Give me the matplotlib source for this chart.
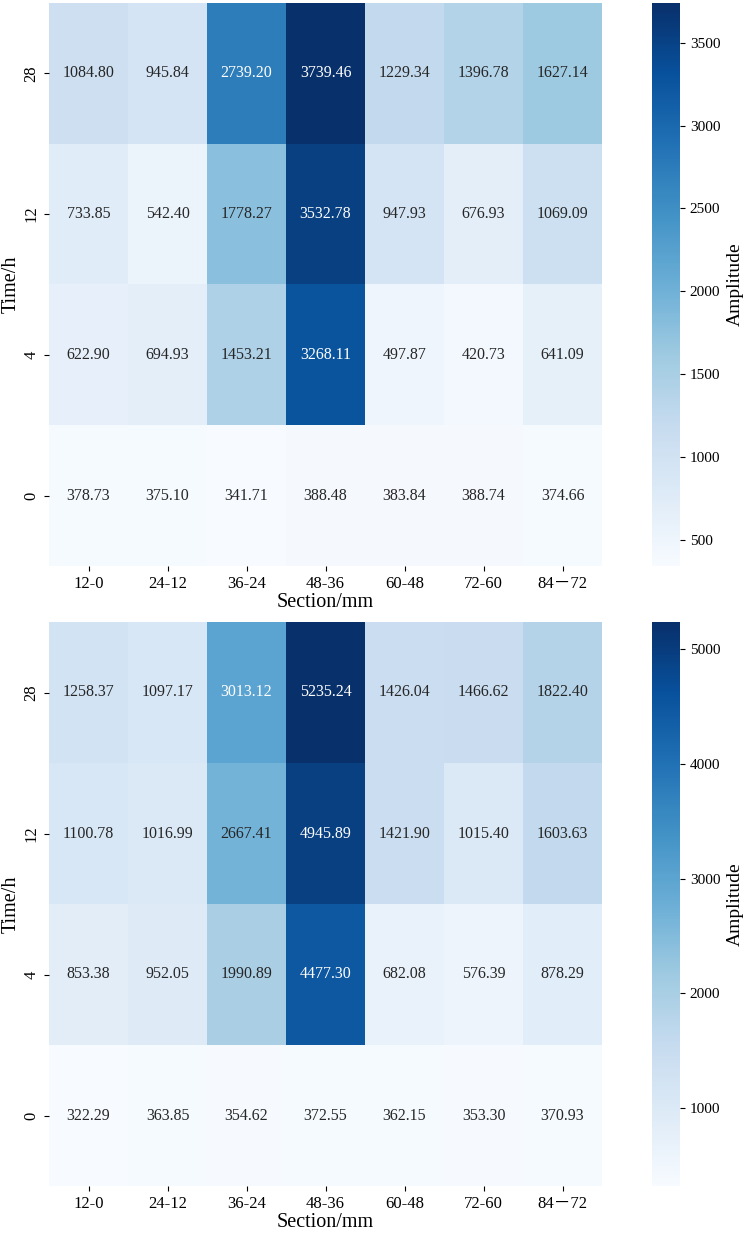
import numpy as np
import matplotlib
matplotlib.use("Agg")
import matplotlib.pyplot as plt
import seaborn as sns

sections = ["12-0", "24-12", "36-24", "48-36", "60-48", "72-60", "84\uff0d72"]
times = ["28", "12", "4", "0"]

amp_top = [
    [1084.80, 945.84, 2739.20, 3739.46, 1229.34, 1396.78, 1627.14],
    [733.85, 542.40, 1778.27, 3532.78, 947.93, 676.93, 1069.09],
    [622.90, 694.93, 1453.21, 3268.11, 497.87, 420.73, 641.09],
    [378.73, 375.10, 341.71, 388.48, 383.84, 388.74, 374.66],
]
amp_bottom = [
    [1258.37, 1097.17, 3013.12, 5235.24, 1426.04, 1466.62, 1822.40],
    [1100.78, 1016.99, 2667.41, 4945.89, 1421.90, 1015.40, 1603.63],
    [853.38, 952.05, 1990.89, 4477.30, 682.08, 576.39, 878.29],
    [322.29, 363.85, 354.62, 372.55, 362.15, 353.30, 370.93],
]

plt.rcParams['font.family'] = ['Liberation Serif', 'Noto Sans CJK SC', 'DejaVu Sans']

fig = plt.figure(figsize=(7.46, 12.58), dpi=100)
W, H = 746, 1258
axes_boxes = [(49, 3, 602, 566), (49, 622, 602, 1186)]
cbar_boxes = [(652, 3, 680, 566), (652, 622, 680, 1186)]

for data, (x0, y0, x1, y1), (c0, cy0, c1, cy1) in zip([amp_top, amp_bottom], axes_boxes, cbar_boxes):
    ax = fig.add_axes([x0 / W, 1 - y1 / H, (x1 - x0) / W, (y1 - y0) / H])
    cax = fig.add_axes([c0 / W, 1 - cy1 / H, (c1 - c0) / W, (cy1 - cy0) / H])
    sns.heatmap(np.array(data), ax=ax, cbar_ax=cax, cmap="Blues", annot=True, fmt=".2f",
                annot_kws={"size": 11.5},
                xticklabels=sections, yticklabels=times)
    ax.set_xlabel("Section/mm", fontsize=14.5, labelpad=1)
    ax.set_ylabel("Time/h", fontsize=14.5, labelpad=2)
    ax.tick_params(axis='x', labelsize=12, rotation=0)
    ax.tick_params(axis='y', labelsize=12, rotation=90)
    cax.tick_params(labelsize=11)
    cax.set_ylabel("Amplitude", fontsize=14, labelpad=5)
    cax.yaxis.set_label_position("right")

fig.savefig("out.png", dpi=100)
